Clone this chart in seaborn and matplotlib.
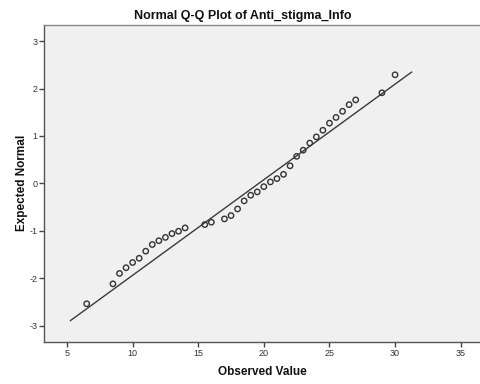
import numpy as np
import pandas as pd
import seaborn as sns
import matplotlib
matplotlib.use("Agg")
import matplotlib.pyplot as plt

# Observed values of Anti_stigma_Info and their expected normal scores
observed = [6.5, 8.5, 9, 9.5, 10, 10.5, 11, 11.5, 12, 12.5, 13, 13.5, 14,
            15.5, 16, 17, 17.5, 18, 18.5, 19, 19.5, 20, 20.5, 21, 21.5, 22,
            22.5, 23, 23.5, 24, 24.5, 25, 25.5, 26, 26.5, 27, 29, 30]
expected = [-2.54, -2.12, -1.90, -1.78, -1.67, -1.58, -1.43, -1.29, -1.21,
            -1.14, -1.06, -1.01, -0.94, -0.87, -0.82, -0.75, -0.68, -0.54,
            -0.37, -0.25, -0.18, -0.07, 0.03, 0.10, 0.19, 0.37, 0.57, 0.70,
            0.85, 0.98, 1.12, 1.27, 1.39, 1.52, 1.66, 1.76, 1.91, 2.29]

# Reference normal line (mean and standard deviation of the variable)
line_x = [5.25, 31.27]
mean_val = 19.62
sd_val = 4.96

x_ticks = [5, 10, 15, 20, 25, 30, 35]
y_ticks = [-3, -2, -1, 0, 1, 2, 3]

df = pd.DataFrame({"Observed Value": observed, "Expected Normal": expected})
line_df = pd.DataFrame({"x": line_x,
                        "y": [(v - mean_val) / sd_val for v in line_x]})

sns.set_style("white")
plt.rcParams["font.family"] = ["Liberation Sans", "DejaVu Sans"]

fig = plt.figure(figsize=(4.81, 3.84), dpi=100)
ax = fig.add_axes([44.3 / 481, 1 - 341.7 / 384, 1 - 44.3 / 481, (341.7 - 25) / 384])
ax.set_facecolor("#f0f0f0")

sns.lineplot(data=line_df, x="x", y="y", ax=ax, color="#3a3a3a",
             linewidth=1.0, zorder=2)
sns.scatterplot(data=df, x="Observed Value", y="Expected Normal", ax=ax,
                marker="o", s=15, facecolor="none", edgecolor="#333333",
                linewidth=1.0, zorder=3)

ax.set_xlim(3.27, 36.55)
ax.set_ylim(-3.34, 3.34)
ax.set_xticks(x_ticks)
ax.set_yticks(y_ticks)
ax.set_xticklabels([str(t) for t in x_ticks])
ax.set_yticklabels([str(t) for t in y_ticks])
ax.tick_params(axis="both", direction="out", length=3.5, width=1.0,
               color="#444444", labelsize=6.5, labelcolor="#333333", pad=1.5)
ax.tick_params(axis="x", bottom=True)
ax.tick_params(axis="y", left=True)

for side in ["left", "bottom"]:
    ax.spines[side].set_color("#555555")
    ax.spines[side].set_linewidth(1.0)
ax.spines["top"].set_color("#888888")
ax.spines["top"].set_linewidth(1.0)
ax.spines["right"].set_visible(False)

ax.set_xlabel("Observed Value", fontsize=8.5, fontweight="bold",
              color="#111111", labelpad=6)
ax.set_ylabel("Expected Normal", fontsize=8.5, fontweight="bold",
              color="#111111", labelpad=1)
fig.text(243 / 481, 1 - 15.5 / 384, "Normal Q-Q Plot of Anti_stigma_Info",
         ha="center", va="center", fontsize=9, fontweight="bold",
         color="#111111")

fig.savefig("out.png", dpi=100, facecolor="white")
